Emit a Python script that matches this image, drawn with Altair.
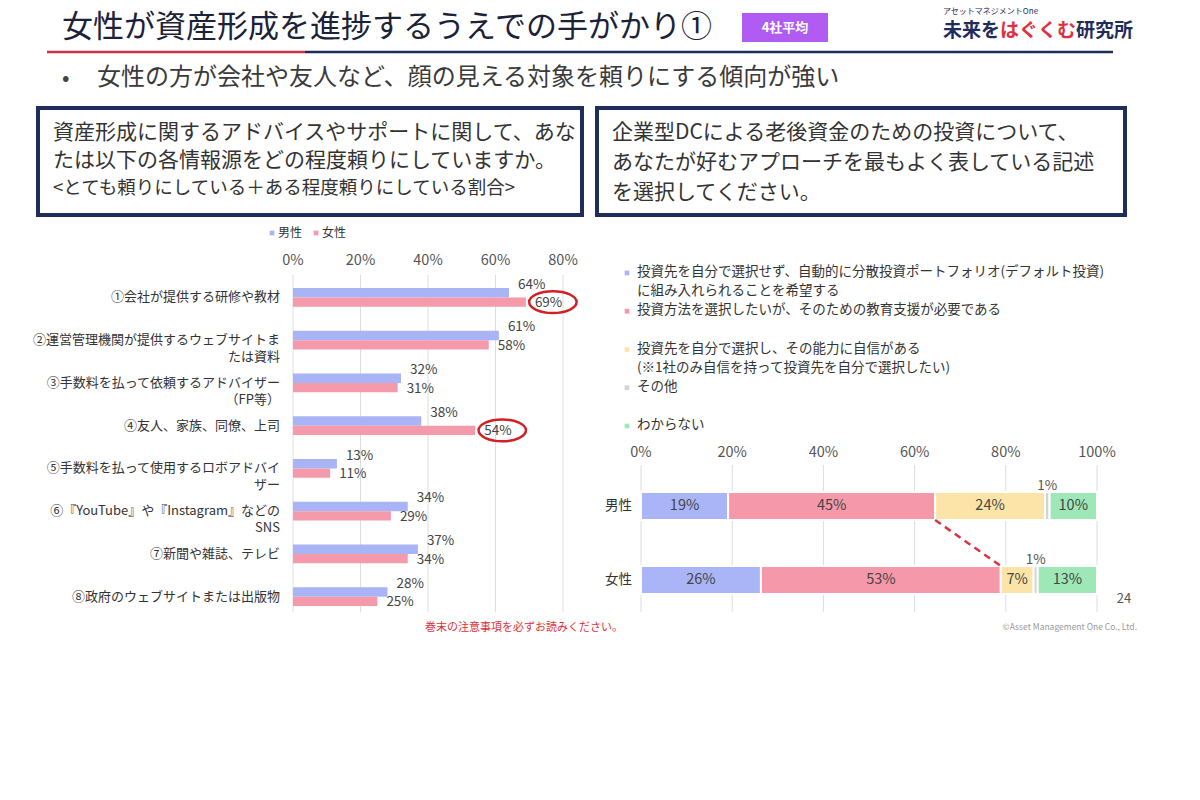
import altair as alt
import pandas as pd

FONT = "Noto Sans CJK JP"
NAVY = "#1f2d5c"
RED = "#d42a3a"
TXT = "#333333"

# ---------------- data ----------------
genders = ["男性", "女性"]

left_cats = [
    "①会社が提供する研修や教材",
    "②運営管理機関が提供するウェブサイトま\nたは資料",
    "③手数料を払って依頼するアドバイザー\n（FP等）",
    "④友人、家族、同僚、上司",
    "⑤手数料を払って使用するロボアドバイ\nザー",
    "⑥『YouTube』や『Instagram』などの\nSNS",
    "⑦新聞や雑誌、テレビ",
    "⑧政府のウェブサイトまたは出版物",
]
left_male = [64, 61, 32, 38, 13, 34, 37, 28]
left_female = [69, 58, 31, 54, 11, 29, 34, 25]
left_circled_female = [True, False, False, True, False, False, False, False]
left_ticks = [0, 20, 40, 60, 80]

right_groups = ["男性", "女性"]
right_cats = [
    "投資先を自分で選択せず、自動的に分散投資ポートフォリオ(デフォルト投資)\nに組み入れられることを希望する",
    "投資方法を選択したいが、そのための教育支援が必要である",
    " 投資先を自分で選択し、その能力に自信がある\n (※1社のみ自信を持って投資先を自分で選択したい)",
    "その他",
    "わからない",
]
right_male = [19.1, 45.4, 24.1, 1.0, 10.4]
right_female = [26.3, 52.6, 7.2, 0.9, 13.0]
right_ticks = [0, 20, 40, 60, 80, 100]

left_colors = ["#a9b4f6", "#f59aab"]
right_colors = ["#aab5f8", "#f598aa", "#fce4a8", "#d3d3d3", "#9ee8b8"]

# ---------------- tables ----------------
left_rows = []
for i, c in enumerate(left_cats):
    left_rows.append({"cat": c, "gender": "男性", "value": left_male[i], "circled": False})
    left_rows.append({"cat": c, "gender": "女性", "value": left_female[i], "circled": left_circled_female[i]})
left_df = pd.DataFrame(left_rows)

right_rows = []
for g, vals in zip(right_groups, [right_male, right_female]):
    for i, (c, v) in enumerate(zip(right_cats, vals)):
        right_rows.append({"group": g, "cat": c, "idx": i, "value": v})
right_df = pd.DataFrame(right_rows)

ONE = alt.Data(values=[{"a": 1}])


def deco_text(text, x, y, size, color=TXT, align="left", weight="normal", baseline="middle"):
    return alt.Chart(ONE).mark_text(
        text=text, fontSize=size, color=color, align=align, baseline=baseline,
        font=FONT, fontWeight=weight,
    ).encode(x=alt.value(x), y=alt.value(y))


def deco_rule(x1, x2, y1, y2, color, width):
    return alt.Chart(ONE).mark_rule(color=color, strokeWidth=width).encode(
        x=alt.value(x1), x2=alt.value(x2), y=alt.value(y1), y2=alt.value(y2))


def deco_rect(x1, x2, y1, y2, fill, stroke=None, sw=0):
    kw = dict(fill=fill, strokeWidth=sw)
    if stroke:
        kw["stroke"] = stroke
    return alt.Chart(ONE).mark_rect(**kw).encode(
        x=alt.value(x1), x2=alt.value(x2), y=alt.value(y1), y2=alt.value(y2))


layers = []

# ---------------- header ----------------
layers.append(deco_text("女性が資産形成を進捗するうえでの手がかり①", 62, 28, 31, color="#1c2238"))
layers.append(deco_rect(742, 828, 13, 42, "#b05cf2"))
layers.append(deco_text("4社平均", 785, 28, 13, color="white", align="center", weight="bold"))
layers.append(deco_text("アセットマネジメントOne", 943, 12, 8, color=NAVY))
layers.append(deco_text("未来を", 943, 31, 19, color=NAVY, weight="bold"))
layers.append(deco_text("はぐくむ", 1000, 31, 19, color="#e0303f", weight="bold"))
layers.append(deco_text("研究所", 1076, 31, 19, color=NAVY, weight="bold"))
layers.append(deco_rule(47, 305, 52, 52, "#c8334a", 2.5))
layers.append(deco_rule(305, 1113, 52, 52, NAVY, 2.5))
layers.append(deco_text("•", 62, 78, 22, color="#444"))
layers.append(deco_text("女性の方が会社や友人など、顔の見える対象を頼りにする傾向が強い", 97, 78, 24, color="#3a3a3a"))

# question boxes
layers.append(deco_rect(38, 582, 108, 215, "white", NAVY, 4))
layers.append(deco_text("資産形成に関するアドバイスやサポートに関して、あな", 53, 133, 21, color="#333"))
layers.append(deco_text("たは以下の各情報源をどの程度頼りにしていますか。", 53, 161, 21, color="#333"))
layers.append(deco_text("<とても頼りにしている＋ある程度頼りにしている割合>", 53, 188, 18.5, color="#333"))
layers.append(deco_rect(597, 1125, 108, 215, "white", NAVY, 4))
layers.append(deco_text("企業型DCによる老後資金のための投資について、", 612, 133, 21, color="#333"))
layers.append(deco_text("あなたが好むアプローチを最もよく表している記述", 612, 163, 21, color="#333"))
layers.append(deco_text("を選択してください。", 612, 193, 21, color="#333"))

# ---------------- left chart ----------------
x_left = alt.Scale(domain=[0, 80], range=[293, 563])
y_left = alt.Scale(domain=left_cats, range=[276, 618], paddingInner=0.56, paddingOuter=0.28)
yoff = alt.Scale(domain=genders, paddingInner=0, paddingOuter=0)
c_left = alt.Scale(domain=genders, range=left_colors)

lt = pd.DataFrame({"t": left_ticks})
layers.append(alt.Chart(lt).mark_rule(color="#dddddd", strokeWidth=1).encode(
    x=alt.X("t:Q", scale=x_left, axis=None), y=alt.value(275), y2=alt.value(612)))
layers.append(alt.Chart(lt).transform_calculate(lab="datum.t + '%'").mark_text(
    font=FONT, fontSize=14.5, color="#555", align="center", baseline="middle").encode(
    x=alt.X("t:Q", scale=x_left, axis=None), y=alt.value(261), text="lab:N"))

layers.append(alt.Chart(left_df).mark_bar().encode(
    x=alt.X("value:Q", scale=x_left, axis=None),
    y=alt.Y("cat:N", scale=y_left, axis=None),
    yOffset=alt.YOffset("gender:N", scale=yoff),
    color=alt.Color("gender:N", scale=c_left, legend=None)))

layers.append(alt.Chart(pd.DataFrame({"cat": left_cats})).mark_text(
    font=FONT, fontSize=13, color=TXT, align="right", baseline="middle",
    lineBreak="\n", lineHeight=17).encode(
    x=alt.value(280), y=alt.Y("cat:N", scale=y_left, axis=None), text="cat:N"))

for g, dy in [("男性", -8), ("女性", 1)]:
    layers.append(alt.Chart(left_df).transform_filter(alt.datum.gender == g).transform_calculate(
        lab="datum.value + '%'").mark_text(
        font=FONT, fontSize=13.5, color="#444", align="left", baseline="middle", dx=9, dy=dy).encode(
        x=alt.X("value:Q", scale=x_left, axis=None),
        y=alt.Y("cat:N", scale=y_left, axis=None),
        yOffset=alt.YOffset("gender:N", scale=yoff),
        text="lab:N"))

ELLIPSE = "M -1 0 A 1 0.46 0 1 1 1 0 A 1 0.46 0 1 1 -1 0 Z"
layers.append(alt.Chart(left_df).transform_filter(alt.datum.circled).mark_point(
    shape=ELLIPSE, size=2250, filled=False, stroke="#d41f26", strokeWidth=2.5,
    xOffset=27, opacity=1).encode(
    x=alt.X("value:Q", scale=x_left, axis=None),
    y=alt.Y("cat:N", scale=y_left, axis=None),
    yOffset=alt.YOffset("gender:N", scale=yoff)))

# left legend
lg_x = alt.Scale(type="point", domain=genders, range=[272, 316], padding=0)
lgd = pd.DataFrame({"gender": genders})
layers.append(alt.Chart(lgd).mark_square(size=22, opacity=1).encode(
    x=alt.X("gender:N", scale=lg_x, axis=None), y=alt.value(233),
    color=alt.Color("gender:N", scale=c_left, legend=None)))
layers.append(alt.Chart(lgd).mark_text(font=FONT, fontSize=12, color=TXT, align="left",
                                        baseline="middle", dx=6).encode(
    x=alt.X("gender:N", scale=lg_x, axis=None), y=alt.value(233), text="gender:N"))

# ---------------- right chart ----------------
x_right = alt.Scale(domain=[0, 100], range=[641, 1097])
y_right = alt.Scale(domain=right_groups, range=[469, 617], paddingInner=0.62, paddingOuter=0.31)
c_right = alt.Scale(domain=right_cats, range=right_colors)

rt = pd.DataFrame({"t": right_ticks})
layers.append(alt.Chart(rt).mark_rule(color="#dddddd", strokeWidth=1).encode(
    x=alt.X("t:Q", scale=x_right, axis=None), y=alt.value(465), y2=alt.value(612)))
layers.append(alt.Chart(rt).transform_calculate(lab="datum.t + '%'").mark_text(
    font=FONT, fontSize=14.5, color="#555", align="center", baseline="middle").encode(
    x=alt.X("t:Q", scale=x_right, axis=None), y=alt.value(453), text="lab:N"))

stacked = alt.Chart(right_df).transform_stack(
    stack="value", groupby=["group"], as_=["v0", "v1"],
    sort=[alt.SortField("idx", order="ascending")])

layers.append(stacked.mark_bar(stroke="white", strokeWidth=2).encode(
    x=alt.X("v0:Q", scale=x_right, axis=None), x2="v1:Q",
    y=alt.Y("group:N", scale=y_right, axis=None),
    color=alt.Color("cat:N", scale=c_right, legend=None)))

layers.append(stacked.transform_filter(alt.datum.value >= 3).transform_calculate(
    mid="(datum.v0 + datum.v1) / 2", lab="round(datum.value) + '%'").mark_text(
    font=FONT, fontSize=14.5, color="#444", align="center", baseline="middle").encode(
    x=alt.X("mid:Q", scale=x_right, axis=None),
    y=alt.Y("group:N", scale=y_right, axis=None), text="lab:N"))
layers.append(stacked.transform_filter(alt.datum.value < 3).transform_calculate(
    mid="(datum.v0 + datum.v1) / 2", lab="round(datum.value) + '%'").mark_text(
    font=FONT, fontSize=13.5, color="#555", align="center", baseline="middle", dy=-20).encode(
    x=alt.X("mid:Q", scale=x_right, axis=None),
    y=alt.Y("group:N", scale=y_right, axis=None), text="lab:N"))

layers.append(stacked.transform_filter(alt.datum.idx == 1).transform_pivot(
    "group", value="v1").mark_rule(
    color="#d9333f", strokeWidth=2.5, strokeDash=[7, 5], yOffset=14, y2Offset=-14).encode(
    x=alt.X("男性:Q", scale=x_right, axis=None), x2="女性:Q",
    y=alt.Y(datum="男性", type="nominal", scale=y_right, axis=None),
    y2=alt.Y2(datum="女性")))

layers.append(alt.Chart(pd.DataFrame({"group": right_groups})).mark_text(
    font=FONT, fontSize=13.5, color=TXT, align="right", baseline="middle").encode(
    x=alt.value(632), y=alt.Y("group:N", scale=y_right, axis=None), text="group:N"))

# right legend
lg_y = alt.Scale(type="point", domain=right_cats, range=[273, 426], padding=0)
rl = pd.DataFrame({"cat": right_cats})
layers.append(alt.Chart(rl).mark_square(size=22, opacity=1).encode(
    x=alt.value(627), y=alt.Y("cat:N", scale=lg_y, axis=None),
    color=alt.Color("cat:N", scale=c_right, legend=None)))
layers.append(alt.Chart(rl).mark_text(font=FONT, fontSize=13.5, color=TXT, align="left",
                                       baseline="top", dy=-8, lineBreak="\n", lineHeight=19).encode(
    x=alt.value(637), y=alt.Y("cat:N", scale=lg_y, axis=None), text="cat:N"))

# ---------------- footer ----------------
layers.append(deco_text("巻末の注意事項を必ずお読みください。", 425, 628, 11, color="#e0303a"))
layers.append(deco_text("©Asset Management One Co., Ltd.", 1137, 627, 8.5, color="#999", align="right"))
layers.append(deco_text("24", 1124, 599, 13, color="#555", align="center"))

chart = alt.layer(*layers).resolve_scale(
    x="independent", y="independent", color="independent"
).properties(
    width=1200, height=800, autosize=alt.AutoSizeParams(type="none"), padding=0,
    background="white",
).configure_view(strokeWidth=0)

chart.save("out.html", embed_options={"renderer": "svg", "actions": False})
